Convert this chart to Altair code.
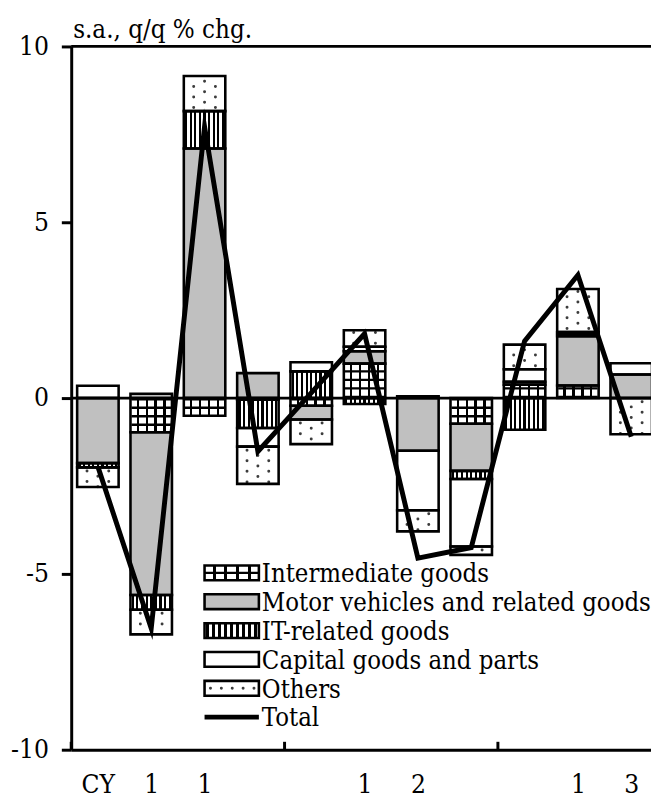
import json
import altair as alt
import pandas as pd

# ---------------- data ----------------
labels = ["CY", "1", "1", "", "", "1", "2", "", "", "1", "3"]
categories = [
    "Intermediate goods",
    "Motor vehicles and related goods",
    "IT-related goods",
    "Capital goods and parts",
    "Others",
]
intermediate = [0.00, -0.97, -0.50, -0.05, -0.22, 0.98, 0.05, -0.73, 0.38, 0.36, 0.00]
motor        = [-1.85, -4.63, 7.10, 0.71, -0.39, 0.35, -1.50, -1.34, 0.08, 1.40, 0.67]
it_related   = [-0.12, -0.42, 1.06, -0.80, 0.76, -0.17, 0.00, -0.23, -0.90, 0.06, 0.00]
capital      = [0.35, 0.12, 0.00, -0.53, 0.26, 0.13, -1.69, -1.92, 0.36, 0.06, 0.32]
others       = [-0.56, -0.70, 1.00, -1.06, -0.70, 0.47, -0.60, -0.24, 0.70, 1.22, -1.03]
total        = [-1.95, -6.55, 7.72, -1.52, 0.15, 1.83, -4.55, -4.25, 1.62, 3.50, -1.10]
year_sep = [0.5, 4.5, 8.5]
y_ticks = [-10, -5, 0, 5, 10]
title_text = "s.a., q/q % chg."

series = dict(zip(categories, [intermediate, motor, it_related, capital, others]))

# ---------------- stacking (diverging) ----------------
HW = 21 / 54  # half bar width in band units
rows = []
for i in range(len(labels)):
    pos, neg = 0.0, 0.0
    for c in categories:
        v = series[c][i]
        if v == 0:
            continue
        if v > 0:
            y0, y1 = pos, pos + v
            pos += v
        else:
            y0, y1 = neg, neg + v
            neg += v
        rows.append(dict(idx=i + 1, cat=c, v=v, y0=y0, y1=y1,
                         xl=i + 1 - HW, xr=i + 1 + HW))
bars = pd.DataFrame(rows)
tot = pd.DataFrame({"idx": list(range(1, len(total) + 1)), "total": total})

FONT = "DejaVu Serif Condensed"
FS_TITLE = 26
FS_LEG = 25.8
FS_AXIS = 26.5
PLOT_W, PLOT_H = 587, 712
XS = alt.Scale(domain=[0.5, 0.5 + PLOT_W / 54], nice=False, zero=False)
YS = alt.Scale(domain=[-10, 10], nice=False, zero=False)

xaxis = alt.Axis(values=list(range(1, len(labels) + 1)),
                 labelExpr=json.dumps(labels) + "[datum.value - 1]",
                 ticks=False, grid=False, title=None, labelPadding=22,
                 labelFlush=False, labelOverlap=False)
yaxis = alt.Axis(values=y_ticks, labelExpr="'' + datum.value", tickSize=10,
                 labelPadding=13, grid=False, title=None)

fill_scale = alt.Scale(domain=categories,
                       range=["white", "#c0c0c0", "white", "white", "white"])


def lines_gradient(centers, half):
    stops = [alt.GradientStop(offset=0, color="white")]
    for c in centers:
        stops += [alt.GradientStop(offset=c - half, color="white"),
                  alt.GradientStop(offset=c - half, color="black"),
                  alt.GradientStop(offset=c + half, color="black"),
                  alt.GradientStop(offset=c + half, color="white")]
    stops.append(alt.GradientStop(offset=1, color="white"))
    return alt.LinearGradient(gradient="linear", stops=stops, x1=0, x2=1, y1=0, y2=0)


it_grad = lines_gradient([(k + 0.5) / 9 for k in range(9)], 1.1 / 42)
grid_grad = lines_gradient([(7.5 + 9 * k) / 42 for k in range(4)], 1.2 / 42)


def rect_enc(ch):
    return ch.encode(
        x=alt.X("xl:Q", scale=XS, axis=xaxis),
        x2="xr:Q",
        y=alt.Y("y0:Q", scale=YS, axis=yaxis),
        y2="y1:Q",
    )


base = alt.Chart(bars)

fills = rect_enc(base.mark_rect(strokeWidth=0, clip=True)).encode(
    color=alt.Color("cat:N", scale=fill_scale, legend=None))
it_fill = rect_enc(base.transform_filter(alt.datum.cat == categories[2])
                   .mark_rect(fill=it_grad, strokeWidth=0, clip=True))
grid_fill = rect_enc(base.transform_filter(alt.datum.cat == categories[0])
                     .mark_rect(fill=grid_grad, strokeWidth=0, clip=True))
grid_h = (base.transform_filter(alt.datum.cat == categories[0])
          .mark_rule(color="black", strokeWidth=40, strokeDash=[2.4, 6.2],
                     strokeCap="butt", clip=True)
          .encode(x=alt.X("idx:Q", scale=XS, axis=xaxis),
                  y=alt.Y("y0:Q", scale=YS, axis=yaxis), y2="y1:Q"))

dot_layers = []
for off, dash_off in [(-11 / 54, 7.1), (0.0, 1.8), (11 / 54, 7.1)]:
    dot_layers.append(
        base.transform_filter(alt.datum.cat == categories[4])
        .transform_calculate(xd=f"datum.idx + ({off})")
        .mark_rule(color="#3c3c3c", strokeWidth=3, strokeDash=[0.01, 10.7],
                   strokeDashOffset=dash_off, strokeCap="round", clip=True)
        .encode(x=alt.X("xd:Q", scale=XS, axis=xaxis),
                y=alt.Y("y0:Q", scale=YS, axis=yaxis), y2="y1:Q"))

outline = rect_enc(base.mark_rect(fill="white", fillOpacity=0, stroke="black",
                                  strokeWidth=2.6, clip=True))

hlines = (alt.Chart(pd.DataFrame({"y": [0, 10]}))
          .mark_rule(color="black", strokeWidth=2.8)
          .encode(y=alt.Y("y:Q", scale=YS, axis=yaxis)))

seps = (alt.Chart(pd.DataFrame({"x": year_sep}))
        .mark_rule(color="black", strokeWidth=3)
        .encode(x=alt.X("x:Q", scale=XS, axis=xaxis),
                y=alt.value(PLOT_H), y2=alt.value(PLOT_H - 8)))

line = (alt.Chart(tot)
        .mark_line(color="black", strokeWidth=5, strokeJoin="miter",
                   strokeMiterLimit=10, clip=True)
        .encode(x=alt.X("idx:Q", scale=XS, axis=xaxis),
                y=alt.Y("total:Q", scale=YS, axis=yaxis)))

title = (alt.Chart(pd.DataFrame({"t": [title_text]}))
         .mark_text(align="left", baseline="alphabetic", font=FONT,
                    fontSize=FS_TITLE, color="black")
         .encode(x=alt.value(2), y=alt.value(-9), text="t:N"))

# ---------------- legend (drawn with marks to show patterns) ----------------
leg_items = categories + ["Total"]
leg = pd.DataFrame({"i": list(range(len(leg_items))), "cat": leg_items})
lbase = (alt.Chart(leg)
         .transform_calculate(cy="533 + 29.2 * datum.i", lx0="135", lx1="190",
                              ly0="datum.cy - 7.5", ly1="datum.cy + 7.5",
                              ty="datum.cy + 9.5", tx="193"))


def lrect(ch):
    return ch.encode(x=alt.X("lx0:Q", scale=None, axis=None), x2="lx1:Q",
                     y=alt.Y("ly0:Q", scale=None, axis=None), y2="ly1:Q")


lfill = lrect(lbase.transform_filter(alt.datum.i < 5).mark_rect(strokeWidth=0)).encode(
    color=alt.Color("cat:N", scale=fill_scale, legend=None))
lit = lrect(lbase.transform_filter(alt.datum.i == 2).mark_rect(fill=it_grad, strokeWidth=0))
lgrid = lrect(lbase.transform_filter(alt.datum.i == 0).mark_rect(fill=grid_grad, strokeWidth=0))
lgrid_h = (lbase.transform_filter(alt.datum.i == 0)
           .mark_rule(color="black", strokeWidth=2.2)
           .encode(x=alt.X("lx0:Q", scale=None, axis=None), x2="lx1:Q",
                   y=alt.Y("cy:Q", scale=None, axis=None)))
ldots = (lbase.transform_filter(alt.datum.i == 4)
         .mark_rule(color="#3c3c3c", strokeWidth=3, strokeDash=[0.01, 11],
                    strokeDashOffset=-6, strokeCap="round")
         .encode(x=alt.X("lx0:Q", scale=None, axis=None), x2="lx1:Q",
                 y=alt.Y("cy:Q", scale=None, axis=None)))
lout = lrect(lbase.transform_filter(alt.datum.i < 5)
             .mark_rect(fill="white", fillOpacity=0, stroke="black", strokeWidth=2.6))
lline = (lbase.transform_filter(alt.datum.i == 5)
         .mark_rule(color="black", strokeWidth=5)
         .encode(x=alt.X("lx0:Q", scale=None, axis=None), x2="lx1:Q",
                 y=alt.Y("cy:Q", scale=None, axis=None)))
ltext = (lbase.mark_text(align="left", baseline="alphabetic", font=FONT,
                         fontSize=FS_LEG, color="black")
         .encode(x=alt.X("tx:Q", scale=None, axis=None),
                 y=alt.Y("ty:Q", scale=None, axis=None), text="cat:N"))

chart = alt.layer(
    fills, it_fill, grid_fill, grid_h, *dot_layers, outline,
    hlines, seps, line, title,
    lfill, lit, lgrid, lgrid_h, ldots, lout, lline, ltext,
).properties(
    width=PLOT_W, height=PLOT_H,
    autosize=alt.AutoSizeParams(type="none"),
    padding={"left": 64, "top": 34, "right": 0, "bottom": 47},
).configure_view(stroke=None).configure_axis(
    labelFont=FONT, labelFontSize=FS_AXIS, labelColor="black",
    domainColor="black", domainWidth=3, tickColor="black", tickWidth=3,
    grid=False,
)

chart.save("out.html", embed_options={"renderer": "svg", "actions": False})
